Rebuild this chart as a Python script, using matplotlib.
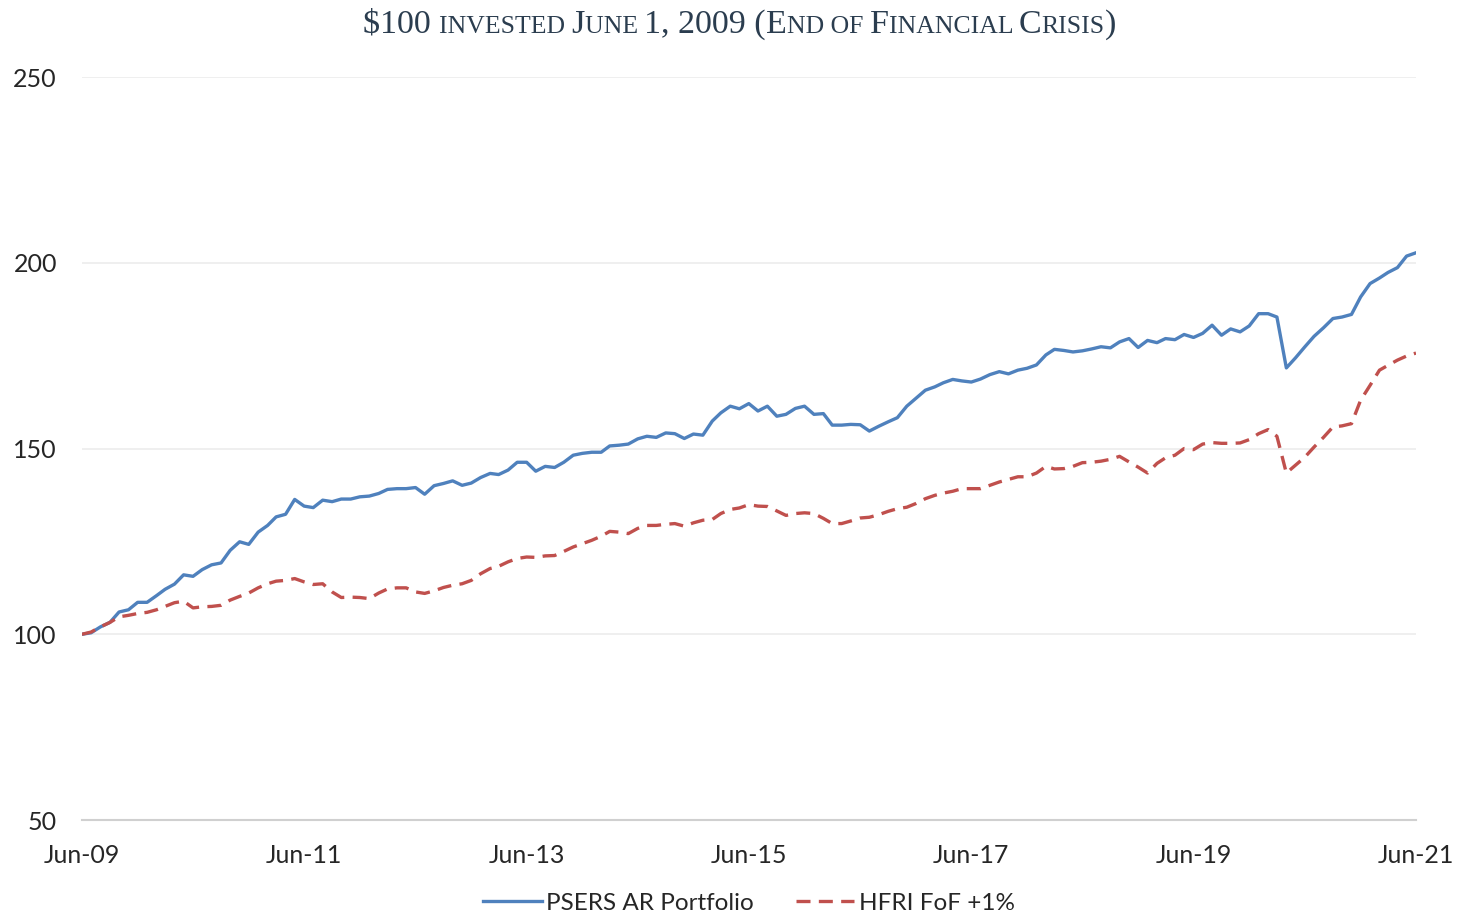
import matplotlib
matplotlib.use("Agg")
import matplotlib.pyplot as plt
import matplotlib.dates as mdates
from matplotlib.offsetbox import TextArea, HPacker, AnchoredOffsetbox
import pandas as pd

# monthly values, Jun-2009 .. Jun-2021
psers = [100, 100.4, 102, 103.2, 106, 106.6, 108.6, 108.6, 110.4, 112.1,
         113.5, 116, 115.6, 117.4, 118.7, 119.2, 122.6, 124.9, 124.2, 127.5,
         129.3, 131.6, 132.3, 136.3, 134.5, 134.1, 136.1, 135.7, 136.4, 136.4,
         137, 137.2, 137.9, 139, 139.2, 139.2, 139.5, 137.7, 140, 140.6,
         141.3, 140.1, 140.7, 142.2, 143.3, 143, 144.2, 146.3, 146.3, 143.9,
         145.2, 144.9, 146.3, 148.2, 148.7, 149, 149, 150.7, 150.9, 151.2,
         152.6, 153.3, 153, 154.2, 154, 152.7, 153.9, 153.6, 157.4, 159.6,
         161.4, 160.7, 162.1, 160.1, 161.4, 158.7, 159.2, 160.8, 161.4, 159.2,
         159.4, 156.3, 156.3, 156.5, 156.4, 154.7, 156, 157.2, 158.3, 161.4,
         163.5, 165.7, 166.6, 167.7, 168.6, 168.2, 167.9, 168.7, 169.9, 170.7,
         170.1, 171.1, 171.6, 172.5, 175.2, 176.7, 176.4, 176, 176.3, 176.8,
         177.4, 177.1, 178.7, 179.6, 177.2, 179.1, 178.5, 179.6, 179.3, 180.7,
         179.9, 181, 183.2, 180.5, 182.2, 181.4, 183, 186.3, 186.3, 185.4,
         171.7, 174.4, 177.4, 180.2, 182.5, 185, 185.4, 186.1, 190.8, 194.4,
         195.9, 197.4, 198.7, 201.8, 202.7]

hfri = [100, 100.6, 102, 103.2, 104.7, 105.1, 105.6, 105.9, 106.6, 107.5,
        108.5, 108.9, 107.1, 107.4, 107.5, 107.8, 109.2, 110.2, 111.1, 112.5,
        113.6, 114.3, 114.5, 115, 114.1, 113.4, 113.6, 111.4, 109.9, 110,
        109.9, 109.6, 111.1, 112.2, 112.5, 112.5, 111.4, 111, 111.7, 112.6,
        113.2, 113.6, 114.5, 116.3, 117.7, 118.3, 119.5, 120.4, 120.8, 120.7,
        121.1, 121.2, 122.3, 123.5, 124.4, 125.3, 126.4, 127.7, 127.5, 127.1,
        128.5, 129.3, 129.3, 129.6, 129.8, 129.1, 130, 130.7, 130.9, 132.5,
        133.6, 134, 134.9, 134.5, 134.4, 133.2, 132, 132.5, 132.7, 132.5,
        131.2, 129.8, 129.8, 130.5, 131.3, 131.5, 132.2, 133.1, 133.8, 134.2,
        135.2, 136.5, 137.4, 138, 138.5, 139.2, 139.2, 139.2, 140.1, 141,
        141.7, 142.4, 142.4, 143.4, 145.2, 144.5, 144.6, 145.2, 146.2, 146.3,
        146.6, 147.1, 147.9, 146.4, 145, 143.4, 146, 147.5, 148.2, 150,
        149.7, 151.2, 151.6, 151.4, 151.4, 151.5, 152.4, 154, 155.1, 153.3,
        143.4, 145.5, 147.7, 150.4, 153, 155.8, 156.1, 156.7, 163, 167,
        171.1, 172.4, 173.8, 174.9, 175.7]

dates = pd.date_range("2009-06-01", periods=len(psers), freq="MS")
y_ticks = [50, 100, 150, 200, 250]

sans = "Lato"
label_color = "#262626"

fig = plt.figure(figsize=(14.58, 9.15), dpi=100)
ax = fig.add_axes([0.0562, 0.1038, 0.915, 0.812])

ax.plot(dates, psers, color="#4F81BD", linewidth=2.4, label="PSERS AR Portfolio", zorder=3)
ax.plot(dates, hfri, color="#C0504D", linewidth=2.4, dashes=(4.2, 2.5),
        label="HFRI FoF +1%", zorder=3)

ax.set_ylim(50, 250)
ax.set_xlim(dates[0], dates[-1])
ax.set_yticks(y_ticks)
ax.set_xticks(pd.date_range("2009-06-01", "2021-06-01", freq="24MS"))
ax.xaxis.set_major_formatter(mdates.DateFormatter("%b-%y"))

for s in ["top", "right", "left"]:
    ax.spines[s].set_visible(False)
ax.spines["bottom"].set_color("#d0d0d0")
ax.spines["bottom"].set_linewidth(1.5)
ax.grid(axis="y", color="#ececec", linewidth=1.2, zorder=0)
ax.tick_params(axis="both", length=0, labelsize=18, labelcolor=label_color)
ax.tick_params(axis="y", pad=18)
ax.tick_params(axis="x", pad=17)
for lab in ax.get_xticklabels() + ax.get_yticklabels():
    lab.set_fontfamily(sans)

leg = ax.legend(loc="center", bbox_to_anchor=(0.5, -0.112), ncol=2, frameon=False,
                prop={"family": sans, "size": 17.5}, handlelength=2.4, handletextpad=0.2,
                columnspacing=1.7, borderpad=0)
for t in leg.get_texts():
    t.set_color(label_color)

# title in small caps, built from pieces
title_color = "#2b3d4f"
big, small = 24.5, 18.5
pieces = [("$100 ", big), ("INVESTED ", small), ("J", big), ("UNE ", small),
          ("1, 2009 (", big), ("E", big), ("ND OF ", small), ("F", big),
          ("INANCIAL ", small), ("C", big), ("RISIS", small), (")", big)]
boxes = [TextArea(t, textprops=dict(fontsize=sz, family="Liberation Serif", color=title_color))
         for t, sz in pieces]
pack = HPacker(children=boxes, align="baseline", pad=0, sep=0)
anch = AnchoredOffsetbox(loc="center", child=pack, frameon=False,
                         bbox_to_anchor=(0.507, 0.973), bbox_transform=fig.transFigure,
                         borderpad=0)
fig.add_artist(anch)

fig.savefig("out.png", dpi=100)
